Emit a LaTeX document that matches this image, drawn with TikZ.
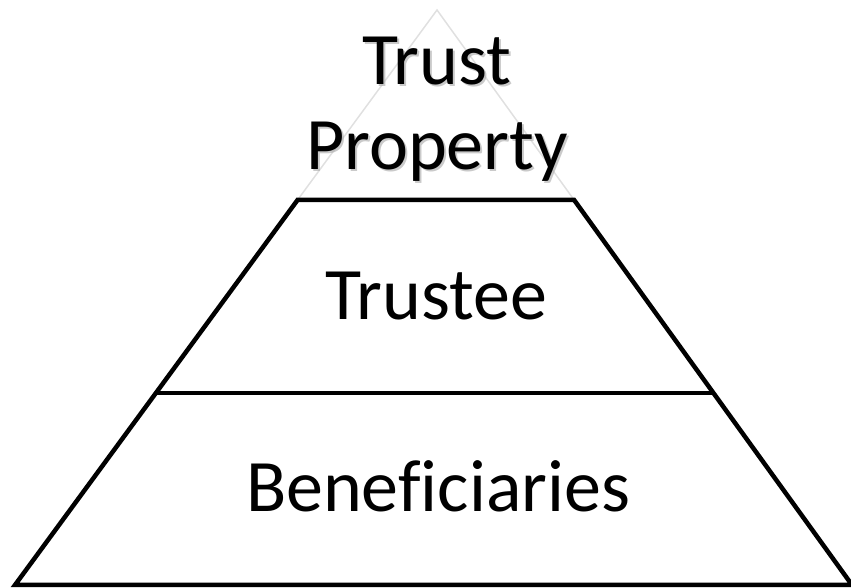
\documentclass[tikz,border=0pt]{standalone}
\usepackage{fontspec}
\setmainfont[Ligatures=NoCommon]{Carlito}
\usetikzlibrary{positioning,calc}

\begin{document}
\begin{tikzpicture}[x=1pt, y=1pt, line join=miter,
    tier/.style={line width=4.5pt, draw=black},
    apexline/.style={line width=1.5pt, draw=black!12},
    label/.style={font=\fontsize{74}{85}\selectfont, align=center, anchor=base}]
    \useasboundingbox (0,0) rectangle (851,588);

    \coordinate (apex) at (437,578);
    \coordinate (baseL) at (15,3);
    \coordinate (baseR) at (852,3);
    \coordinate (topL) at ($(baseL)!0.6696!(apex)$);
    \coordinate (topR) at ($(baseR)!0.6696!(apex)$);
    \coordinate (midL) at ($(baseL)!0.3339!(apex)$);
    \coordinate (midR) at ($(baseR)!0.3339!(apex)$);

    \draw[apexline] (topL) -- (apex) -- (topR);
    \draw[tier] (baseL) -- (topL) -- (topR) -- (baseR) -- cycle;
    \draw[tier] (midL) -- (midR);

    \node[label, text=black!35, opacity=0.6] (propshadow) at (439,416) {Trust\\Property};
    \node[label] (property) at (437,418) {Trust\\Property};
    \node[label] (trustee) at (436,268) {Trustee};
    \node[label] (beneficiaries) at (438,76) {Beneficiaries};
\end{tikzpicture}
\end{document}
